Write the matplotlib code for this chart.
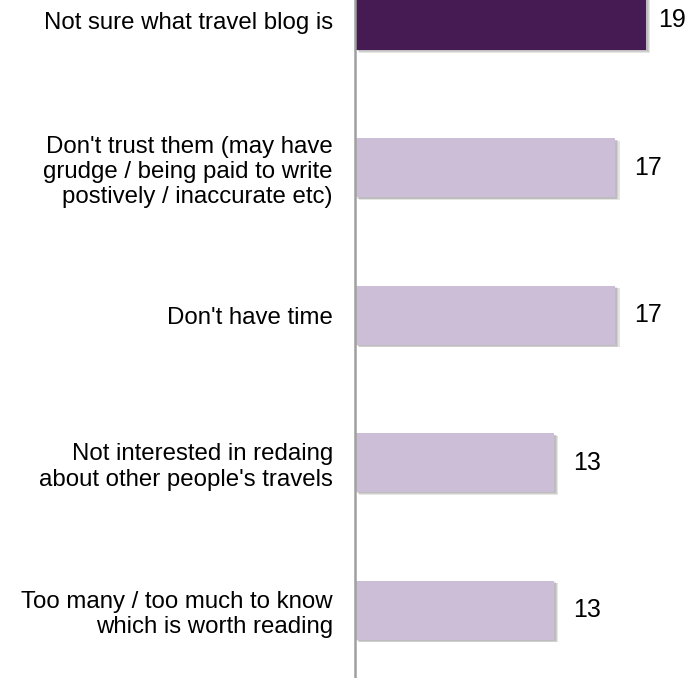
import matplotlib
matplotlib.use("Agg")
import matplotlib.pyplot as plt
import matplotlib.patheffects as pe

categories = [
    "Not sure what travel blog is",
    "Don't trust them (may have\ngrudge / being paid to write\npostively / inaccurate etc)",
    "Don't have time",
    "Not interested in redaing\nabout other people's travels",
    "Too many / too much to know\nwhich is worth reading",
]
values = [19, 17, 17, 13, 13]
colors = ["#461b53", "#cdbed7", "#cdbed7", "#cdbed7", "#cdbed7"]

plt.rcParams['font.family'] = ['Liberation Sans', 'DejaVu Sans']

fig = plt.figure(figsize=(6.93, 6.78), dpi=100)
ax = fig.add_axes([355/693, 0, 338/693, 1])

pos = list(range(len(categories)))
bars = ax.barh(pos, values, height=0.40, color=colors, zorder=2)
shadow = [pe.SimplePatchShadow(offset=(o, -o * 0.6), shadow_rgbFace='#707070', alpha=0.18)
          for o in (3.2, 2.4, 1.6)]
for b in bars:
    b.set_path_effects(shadow + [pe.Normal()])

ax.set_xlim(0, 22.09)
ax.set_ylim(4.461, -0.139)

for p, v in zip(pos, values):
    off = 9 if v == max(values) else 14
    ax.annotate(str(v), xy=(v, p), xytext=(off, 0), textcoords='offset points',
                ha='left', va='center', fontsize=18, color='black')

ax.set_yticks(pos)
ax.set_yticklabels(categories, fontsize=17.3)
ax.tick_params(axis='y', length=0, pad=16)
ax.set_xticks([])

for s in ['top', 'right', 'bottom']:
    ax.spines[s].set_visible(False)
ax.spines['left'].set_color('#a0a0a0')
ax.spines['left'].set_linewidth(1.8)
ax.spines['left'].set_zorder(3)
ax.patch.set_alpha(0)

fig.savefig("out.png", dpi=100)
